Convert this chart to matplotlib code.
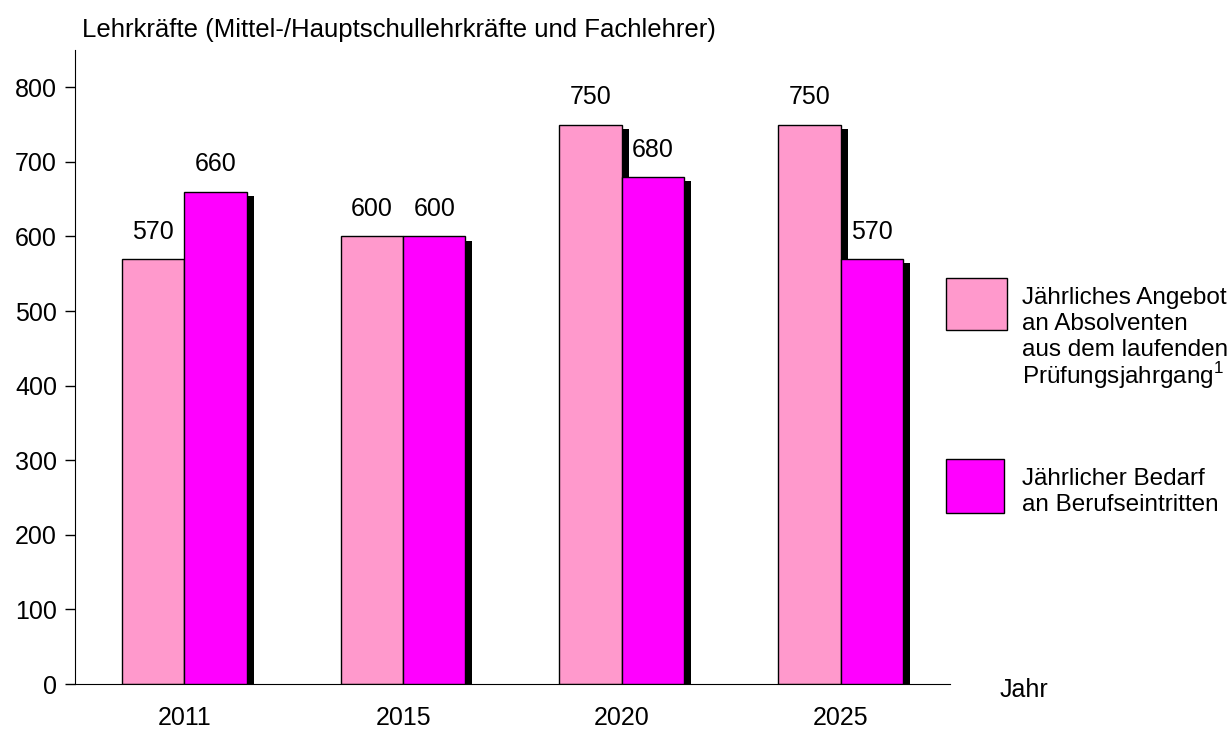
import numpy as np
import matplotlib.pyplot as plt
from matplotlib.patches import Rectangle

plt.rcParams['font.family'] = ['Liberation Sans', 'DejaVu Sans']
plt.rcParams['mathtext.fontset'] = 'custom'
plt.rcParams['mathtext.rm'] = 'Liberation Sans'

# Daten
jahre = ['2011', '2015', '2020', '2025']
angebot = [570, 600, 750, 750]
bedarf = [660, 600, 680, 570]

farbe_angebot = '#FF99CC'
farbe_bedarf = '#FF00FF'

fig = plt.figure(figsize=(12.31, 7.33), dpi=100)
ax = fig.add_axes([0.0609, 0.0668, 0.7108, 0.865])

x = np.arange(len(jahre))
b = 0.285
dx = 0.032   # Schatten versetzt nach rechts
dy = 6       # und nach unten

# Schatten
ax.bar(x - b / 2 + dx, np.array(angebot) - dy, b, color='black', zorder=1)
ax.bar(x + b / 2 + dx, np.array(bedarf) - dy, b, color='black', zorder=1)

# Balken
ax.bar(x - b / 2, angebot, b, color=farbe_angebot, edgecolor='black', linewidth=1, zorder=2)
ax.bar(x + b / 2, bedarf, b, color=farbe_bedarf, edgecolor='black', linewidth=1, zorder=3)

for i in range(len(jahre)):
    ax.annotate(str(angebot[i]), (x[i] - b / 2, angebot[i]), xytext=(0, 11),
                textcoords='offset points', ha='center', va='bottom', fontsize=18)
    ax.annotate(str(bedarf[i]), (x[i] + b / 2, bedarf[i]), xytext=(0, 11),
                textcoords='offset points', ha='center', va='bottom', fontsize=18)

ax.set_xlim(-0.5, 3.5)
ax.set_ylim(0, 850)
ax.set_yticks(range(0, 801, 100))
ax.set_xticks(x)
ax.set_xticklabels(jahre)
ax.tick_params(axis='y', labelsize=18, length=7, width=1, pad=6)
ax.tick_params(axis='x', labelsize=18, length=0, pad=16)
ax.spines['top'].set_visible(False)
ax.spines['right'].set_visible(False)

fig.text(82 / 1231, 1 - 30 / 733, 'Lehrkräfte (Mittel-/Hauptschullehrkräfte und Fachlehrer)',
         fontsize=18.5, va='center', ha='left')
fig.text(1000 / 1231, 1 - 690 / 733, 'Jahr', fontsize=18, va='center', ha='left')

# Legende
W, H = 1231, 733
fig.patches.append(Rectangle((946 / W, 1 - 330 / H), 61 / W, 52 / H, transform=fig.transFigure,
                             facecolor=farbe_angebot, edgecolor='black', linewidth=1))
fig.patches.append(Rectangle((946 / W, 1 - 513 / H), 58 / W, 54 / H, transform=fig.transFigure,
                             facecolor=farbe_bedarf, edgecolor='black', linewidth=1))
zeilen1 = ['Jährliches Angebot', 'an Absolventen', 'aus dem laufenden', 'Prüfungsjahrgang$^{1}$']
for k, t in enumerate(zeilen1):
    fig.text(1022 / W, 1 - (298 + 26 * k) / H, t, fontsize=17.5, va='center', ha='left')
zeilen2 = ['Jährlicher Bedarf', 'an Berufseintritten']
for k, t in enumerate(zeilen2):
    fig.text(1022 / W, 1 - (479 + 26 * k) / H, t, fontsize=17.5, va='center', ha='left')

fig.savefig('out.png', dpi=100)
